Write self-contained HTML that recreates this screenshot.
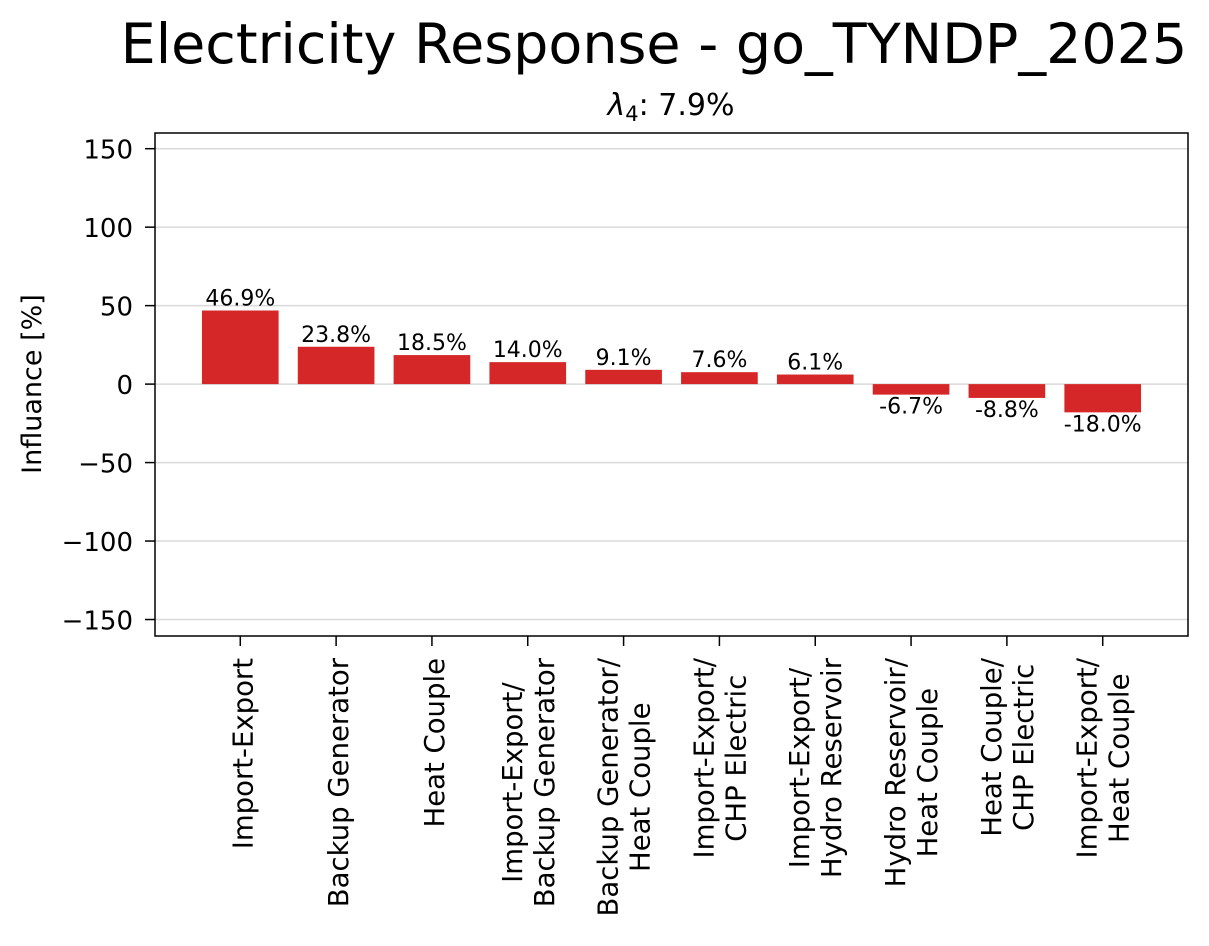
<!DOCTYPE html>
<html><head><meta charset="utf-8"><style>
html,body{margin:0;padding:0;background:#fff}
svg{display:block;font-family:"DejaVu Sans","Liberation Sans",sans-serif}
</style></head><body>
<svg id="chart" width="1209" height="946" viewBox="0 0 1209 946">
<text x="654" y="63" font-size="55.5" text-anchor="middle" fill="#000">Electricity Response - go_TYNDP_2025</text>
<text x="671" y="115" font-size="30" text-anchor="middle" fill="#000"><tspan font-style="italic">λ</tspan><tspan font-size="21" dy="6">4</tspan><tspan dy="-6">: 7.9%</tspan></text>
<g id="grid"></g><g id="bars"></g><g id="labels"></g><g id="axes"></g>
<text transform="translate(41,384) rotate(-90)" font-size="27" text-anchor="middle">Influance [%]</text>
</svg>
<script>
const categories = [["Import-Export"],["Backup Generator"],["Heat Couple"],["Import-Export/","Backup Generator"],["Backup Generator/","Heat Couple"],["Import-Export/","CHP Electric"],["Import-Export/","Hydro Reservoir"],["Hydro Reservoir/","Heat Couple"],["Heat Couple/","CHP Electric"],["Import-Export/","Heat Couple"]];
const values = [46.9,23.8,18.5,14.0,9.1,7.6,6.1,-6.7,-8.8,-18.0];
const valueLabels = ["46.9%","23.8%","18.5%","14.0%","9.1%","7.6%","6.1%","-6.7%","-8.8%","-18.0%"];
const yTicks = [-150,-100,-50,0,50,100,150];
const yTickLabels = ["\u2212150","\u2212100","\u221250","0","50","100","150"];

const NS="http://www.w3.org/2000/svg";
const L=155,R=1188,T=133,B=636,ymin=-160.5,ymax=160;
const xmin=-0.89,xmax=values.length-1+0.89;
const X=i=>L+(i-xmin)/(xmax-xmin)*(R-L);
const Y=v=>B-(v-ymin)/(ymax-ymin)*(B-T);
const bw=0.8*(R-L)/(xmax-xmin);
function mk(tag,attrs,parent){const e=document.createElementNS(NS,tag);for(const k in attrs)e.setAttribute(k,attrs[k]);parent.appendChild(e);return e;}
const grid=document.getElementById('grid'),bars=document.getElementById('bars'),labels=document.getElementById('labels'),axes=document.getElementById('axes');
yTicks.forEach((t,i)=>{
  const g=mk('line',{x1:L,x2:R,y1:Y(t),y2:Y(t),stroke:'#d9d9d9','stroke-width':1.5},grid);
  
  
  const tk=mk('line',{x1:L-10,x2:L,y1:Y(t),y2:Y(t),stroke:'#000','stroke-width':1.5},axes);
  
  
  const tl=mk('text',{x:L-22,y:Y(t)+10,'font-size':26,'text-anchor':'end'},axes);
  tl.textContent=yTickLabels[i];
  
  
});
values.forEach((v,i)=>{
  const y0=Y(0),y1=Y(v);
  const r=mk('rect',{x:X(i)-bw/2,y:Math.min(y0,y1),width:bw,height:Math.abs(y1-y0),fill:'#d62728'},bars);
  
  
  const t=mk('text',{x:X(i),y:v>=0?y1-5:y1+19,'font-size':22,'text-anchor':'middle'},labels);
  t.textContent=valueLabels[i];
  
  
  const tk=mk('line',{x1:X(i),x2:X(i),y1:B,y2:B+10,stroke:'#000','stroke-width':1.5},axes);
  
  
  const lines=categories[i];
  const g=mk('g',{},axes);
  
  
  const els=lines.map(ln=>{const e=mk('text',{'font-size':27.5,'text-anchor':'middle'},g);e.textContent=ln;return e;});
  let maxw=0;els.forEach(e=>{maxw=Math.max(maxw,e.getComputedTextLength());});
  const n=lines.length;
  els.forEach((e,j)=>{
    const cx=X(i)+12-(n-1)*18+j*32;
    const cy=658+maxw/2;
    e.setAttribute('transform','translate('+cx+','+cy+') rotate(-90)');
  });
});
const fr=mk('rect',{x:L,y:T,width:R-L,height:B-T,fill:'none',stroke:'#000','stroke-width':1.5},axes);


</script>
</body></html>
